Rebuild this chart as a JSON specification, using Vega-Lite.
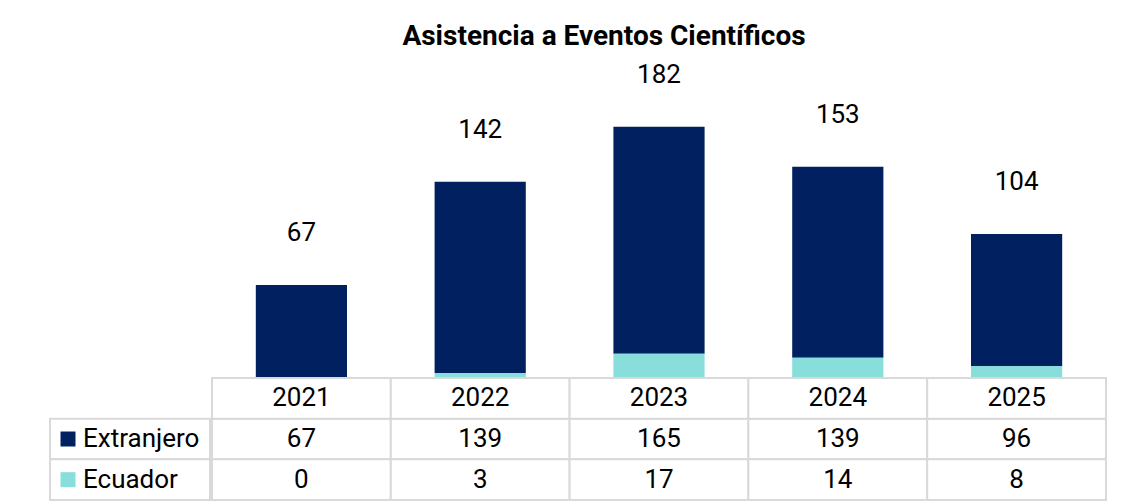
{
  "$schema": "https://vega.github.io/schema/vega-lite/v6.json",
  "padding": {"left": 49, "top": 22, "right": 10, "bottom": 5},
  "background": "white",
  "title": {"text": "Asistencia a Eventos Científicos", "font": "Roboto", "fontSize": 28, "fontWeight": "bold", "color": "#000000", "anchor": "middle", "offset": 11, "dx": 26},
  "config": {"view": {"stroke": null}, "font": "Roboto", "text": {"font": "Roboto", "color": "#000000"}},
  "datasets": {
    "att": [
      {"year": "2021", "series": "Extranjero", "value": 67},
      {"year": "2022", "series": "Extranjero", "value": 139},
      {"year": "2023", "series": "Extranjero", "value": 165},
      {"year": "2024", "series": "Extranjero", "value": 139},
      {"year": "2025", "series": "Extranjero", "value": 96},
      {"year": "2021", "series": "Ecuador", "value": 0},
      {"year": "2022", "series": "Ecuador", "value": 3},
      {"year": "2023", "series": "Ecuador", "value": 17},
      {"year": "2024", "series": "Ecuador", "value": 14},
      {"year": "2025", "series": "Ecuador", "value": 8}
    ]
  },
  "columns": 2,
  "spacing": 0,
  "concat": [
    {"width": 160, "height": 275, "data": {"values": []}, "mark": "text", "encoding": {}},
    {
      "width": 894, "height": 275,
      "data": {"name": "att"},
      "layer": [
        {
          "mark": {"type": "bar"},
          "encoding": {
            "x": {"field": "year", "type": "ordinal", "axis": null, "scale": {"paddingInner": 0.49, "paddingOuter": 0.245}},
            "y": {"field": "value", "type": "quantitative", "stack": "zero", "axis": null, "scale": {"domain": [0, 200], "nice": false}},
            "color": {"field": "series", "type": "nominal", "scale": {"domain": ["Extranjero", "Ecuador"], "range": ["#002060", "#87DEDB"]}, "legend": null},
            "order": {"field": "series", "sort": "ascending"}
          }
        },
        {
          "transform": [{"aggregate": [{"op": "sum", "field": "value", "as": "total"}], "groupby": ["year"]}],
          "mark": {"type": "text", "fontSize": 26, "dy": -52, "baseline": "middle"},
          "encoding": {
            "x": {"field": "year", "type": "ordinal"},
            "y": {"field": "total", "type": "quantitative"},
            "text": {"field": "total", "type": "quantitative"}
          }
        }
      ]
    },
    {
      "width": 160, "height": 122,
      "data": {"name": "att"},
      "transform": [{"aggregate": [{"op": "count", "as": "n"}], "groupby": ["series"]}],
      "layer": [
        {
          "mark": {"type": "rect", "fill": "white", "stroke": "#d9d9d9", "strokeWidth": 2},
          "encoding": {
            "y": {"field": "series", "type": "nominal", "axis": null, "scale": {"domain": ["header", "Extranjero", "Ecuador"], "paddingInner": 0, "paddingOuter": 0}}
          }
        },
        {
          "mark": {"type": "point", "shape": "square", "filled": true, "size": 225, "opacity": 1, "xOffset": -62},
          "encoding": {
            "y": {"field": "series", "type": "nominal"},
            "color": {"field": "series", "type": "nominal", "legend": null}
          }
        },
        {
          "mark": {"type": "text", "align": "left", "dx": -47, "fontSize": 26, "baseline": "middle"},
          "encoding": {
            "y": {"field": "series", "type": "nominal"},
            "text": {"field": "series", "type": "nominal"}
          }
        }
      ]
    },
    {
      "width": 894, "height": 122,
      "data": {"name": "att"},
      "layer": [
        {
          "mark": {"type": "rect", "fill": "white", "stroke": "#d9d9d9", "strokeWidth": 2},
          "encoding": {
            "x": {"field": "year", "type": "ordinal", "axis": null, "scale": {"paddingInner": 0, "paddingOuter": 0}},
            "y": {"field": "series", "type": "nominal", "axis": null, "scale": {"domain": ["header", "Extranjero", "Ecuador"], "paddingInner": 0, "paddingOuter": 0}}
          }
        },
        {
          "transform": [{"filter": "datum.series === 'Extranjero'"}],
          "mark": {"type": "rect", "fill": "white", "stroke": "#d9d9d9", "strokeWidth": 2},
          "encoding": {
            "x": {"field": "year", "type": "ordinal"},
            "y": {"datum": "header", "type": "nominal"}
          }
        },
        {
          "mark": {"type": "text", "fontSize": 26, "baseline": "middle"},
          "encoding": {
            "x": {"field": "year", "type": "ordinal"},
            "y": {"field": "series", "type": "nominal"},
            "text": {"field": "value", "type": "quantitative"}
          }
        },
        {
          "transform": [{"filter": "datum.series === 'Extranjero'"}],
          "mark": {"type": "text", "fontSize": 26, "baseline": "middle"},
          "encoding": {
            "x": {"field": "year", "type": "ordinal"},
            "y": {"datum": "header", "type": "nominal"},
            "text": {"field": "year", "type": "nominal"}
          }
        }
      ]
    }
  ]
}
